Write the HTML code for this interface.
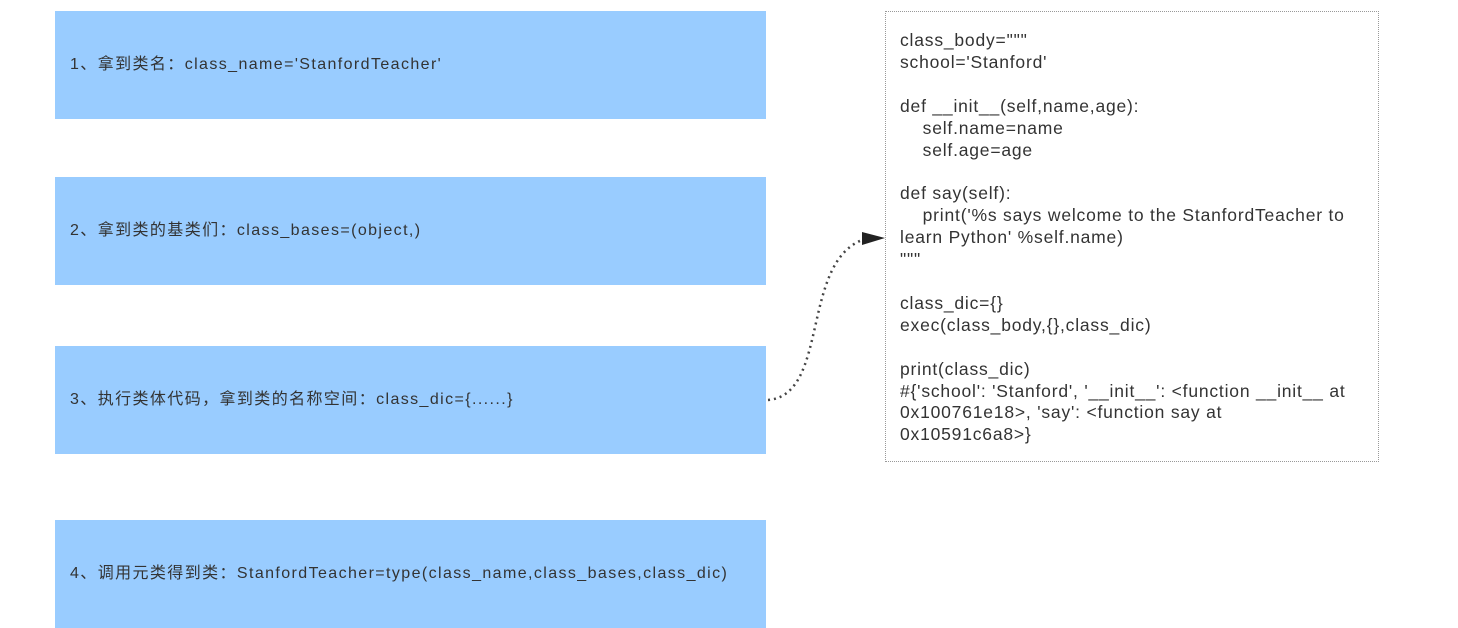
<!DOCTYPE html>
<html><head><meta charset="utf-8"><style>
body{margin:0;width:1458px;height:628px;background:#fff;position:relative;overflow:hidden;font-family:"Liberation Sans","Noto Sans CJK SC",sans-serif;color:#333}
.b{position:absolute;left:55px;width:711px;height:108px;background:#99ccff;font-size:16px;line-height:108px;padding-left:15px;box-sizing:border-box;white-space:nowrap;letter-spacing:1.4px}
.code{position:absolute;left:885px;top:11px;width:494px;height:451px;border:1.5px dotted #999;box-sizing:border-box;padding:18px 0 0 14px;font-size:17.5px;line-height:21.9px;color:#333;white-space:pre;letter-spacing:0.8px}
</style></head><body>
<div class="b" style="top:11px">1、拿到类名：class_name='StanfordTeacher'</div>
<div class="b" style="top:177px">2、拿到类的基类们：class_bases=(object,)</div>
<div class="b" style="top:346px">3、执行类体代码，拿到类的名称空间：class_dic={......}</div>
<div class="b" style="top:520px">4、调用元类得到类：StanfordTeacher=type(class_name,class_bases,class_dic)</div>
<div class="code">class_body="""
school='Stanford'

def __init__(self,name,age):
    self.name=name
    self.age=age

def say(self):
    print('%s says welcome to the StanfordTeacher to
learn Python' %self.name)
"""

class_dic={}
exec(class_body,{},class_dic)

print(class_dic)
#{'school': 'Stanford', '__init__': &lt;function __init__ at
0x100761e18&gt;, 'say': &lt;function say at
0x10591c6a8&gt;}</div>
<svg style="position:absolute;left:0;top:0" width="1458" height="628">
<path d="M768 400 C 830 395, 800 260, 865 239" fill="none" stroke="#444" stroke-width="2.5" stroke-dasharray="2 4"/>
<polygon points="862,232 885,238 862,245" fill="#222"/>
</svg>
</body></html>
